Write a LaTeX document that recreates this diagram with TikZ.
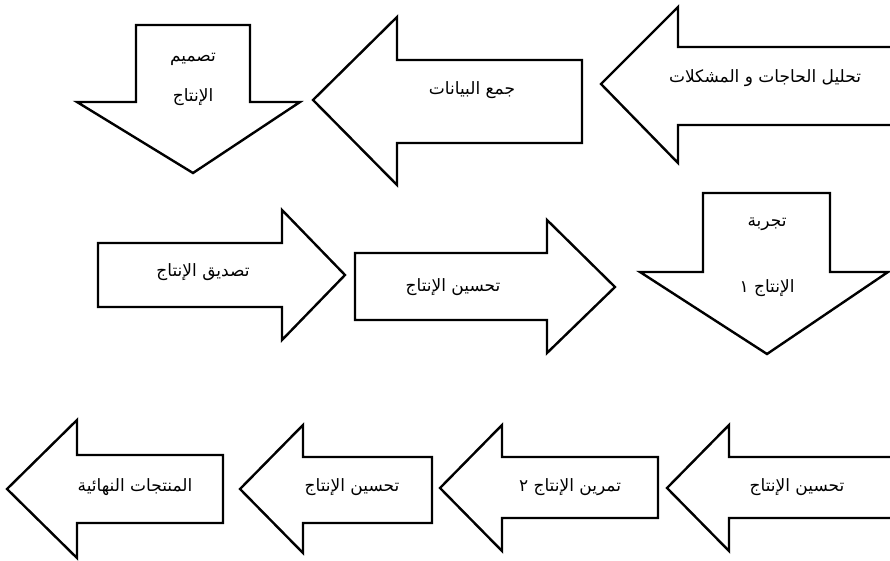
\documentclass[tikz,border=0pt]{standalone}
\usepackage{fontspec}
\newfontfamily\arabicfont[Script=Arabic]{DejaVu Sans}
\TeXXeTstate=1
\begin{document}
\begin{tikzpicture}[x=1pt,y=-1pt,
  arrowshape/.style={draw=black,line width=2.4pt,fill=white,line join=miter},
  lbl/.style={font=\arabicfont\fontsize{17}{19}\selectfont,inner sep=0pt}]
\useasboundingbox (0,0) rectangle (890,561);
% top row
\draw[arrowshape] (895,47) -- (678,47) -- (678,7) -- (601,84) -- (678,163) -- (678,125) -- (895,125);
\node[lbl] (t1) at (765,78) {\beginR تحليل الحاجات و المشكلات\endR};
\draw[arrowshape] (582,60) -- (397,60) -- (397,17) -- (313,100) -- (397,185) -- (397,143) -- (582,143) -- cycle;
\node[lbl] (t2) at (472,90) {\beginR جمع البيانات\endR};
\draw[arrowshape] (136,25) -- (250,25) -- (250,102) -- (300,102) -- (193,173) -- (77,102) -- (136,102) -- cycle;
\node[lbl] (t3a) at (193,59) {\beginR تصميم\endR};
\node[lbl] (t3b) at (193,97) {\beginR الإنتاج\endR};
% middle row
\draw[arrowshape] (98,243) -- (282,243) -- (282,210) -- (345,275) -- (282,340) -- (282,307) -- (98,307) -- cycle;
\node[lbl] (m1) at (203,272) {\beginR تصديق الإنتاج\endR};
\draw[arrowshape] (355,253) -- (547,253) -- (547,220) -- (615,287) -- (547,353) -- (547,320) -- (355,320) -- cycle;
\node[lbl] (m2) at (453,287) {\beginR تحسين الإنتاج\endR};
\draw[arrowshape] (703,193) -- (830,193) -- (830,272) -- (888,272) -- (767,354) -- (640,272) -- (703,272) -- cycle;
\node[lbl] (m3a) at (767,224) {\beginR تجربة\endR};
\node[lbl] (m3b) at (767,288) {\beginR الإنتاج ١\endR};
% bottom row
\draw[arrowshape] (223,455) -- (77,455) -- (77,420) -- (7,489) -- (77,558) -- (77,523) -- (223,523) -- cycle;
\node[lbl] (b1) at (135,487) {\beginR المنتجات النهائية\endR};
\draw[arrowshape] (432,457) -- (303,457) -- (303,425) -- (240,489) -- (303,553) -- (303,523) -- (432,523) -- cycle;
\node[lbl] (b2) at (352,487) {\beginR تحسين الإنتاج\endR};
\draw[arrowshape] (658,457) -- (502,457) -- (502,425) -- (440,488) -- (502,551) -- (502,518) -- (658,518) -- cycle;
\node[lbl] (b3) at (570,487) {\beginR تمرين الإنتاج ٢\endR};
\draw[arrowshape] (895,457) -- (729,457) -- (729,425) -- (667,488) -- (729,551) -- (729,518) -- (895,518);
\node[lbl] (b4) at (797,487) {\beginR تحسين الإنتاج\endR};
\end{tikzpicture}
\end{document}
